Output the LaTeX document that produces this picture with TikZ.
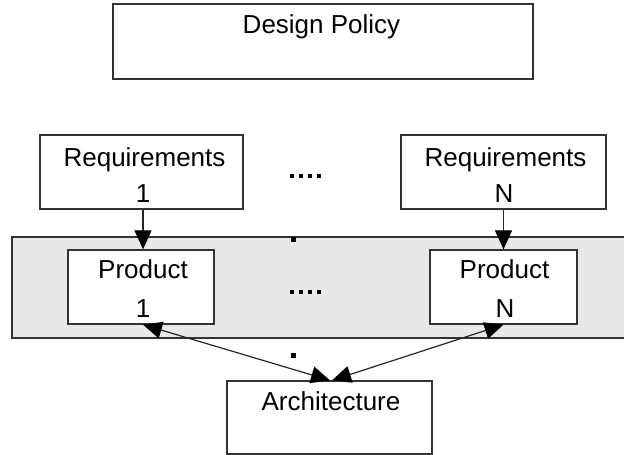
\documentclass[tikz,border=0pt]{standalone}
\usepackage{fontspec}
\setmainfont{Liberation Sans}
\usetikzlibrary{arrows.meta}
\definecolor{edge}{HTML}{333333}
\definecolor{band}{HTML}{E8E8E8}
\begin{document}
\begin{tikzpicture}[x=1pt,y=-1pt,
  box/.style={draw=edge,line width=1.3pt,fill=white,inner sep=0pt},
  txt/.style={anchor=base,inner sep=0pt,font=\fontsize{26}{30}\selectfont},
  tip/.tip={Triangle[length=19pt,width=17pt,color=black]},
  arr/.style={-tip,line width=1.2pt,draw=black!85},
  darr/.style={tip-tip,line width=1.2pt,draw=black!85},
  sq/.style={fill=black,draw=none}]
\useasboundingbox (0,0) rectangle (624,455);
% band
\draw[draw=edge,line width=1.3pt,fill=band] (12,237) rectangle (640,338);
% boxes
\node[box,minimum width=420pt,minimum height=75pt] (dp) at (323,41.5) {};
\node[box,minimum width=203pt,minimum height=74pt] (r1) at (141.5,172) {};
\node[box,minimum width=205pt,minimum height=74pt] (rn) at (503.5,172) {};
\node[box,minimum width=146pt,minimum height=74pt] (p1) at (141,287) {};
\node[box,minimum width=147pt,minimum height=74pt] (pn) at (503.5,287) {};
\node[box,minimum width=205pt,minimum height=73pt] (ar) at (329.5,417.5) {};
% texts
\node[txt] (tdp) at (321.5,33) {Design Policy};
\node[txt] (tr1) at (144.5,166) {Requirements};
\node[txt] (tr1n) at (143,202) {1};
\node[txt] (trn) at (505.5,166) {Requirements};
\node[txt] (trnn) at (504,202) {N};
\node[txt] (tp1) at (143,278) {Product};
\node[txt] (tp1n) at (143,317) {1};
\node[txt] (tpn) at (504.5,278) {Product};
\node[txt] (tpnn) at (505,317) {N};
\node[txt] (tar) at (331,410) {Architecture};
% ellipsis dots
\foreach \x in {290,299,308,317}{
  \fill[sq] (\x,174) rectangle ++(4,4);
  \fill[sq] (\x,290) rectangle ++(4,4);
}
\fill[sq] (291,237) rectangle (296,242);
\fill[sq] (291,353) rectangle (296,358);
% arrows
\draw[arr] ([xshift=1.5pt]r1.south) -- ([xshift=1.5pt]r1.south |- p1.north);
\draw[arr] (rn.south) -- (rn.south |- pn.north);
\draw[darr] ([xshift=2pt]p1.south) -- ([xshift=0.5pt]ar.north);
\draw[darr] (pn.south) -- ([xshift=2.5pt]ar.north);
\end{tikzpicture}
\end{document}
